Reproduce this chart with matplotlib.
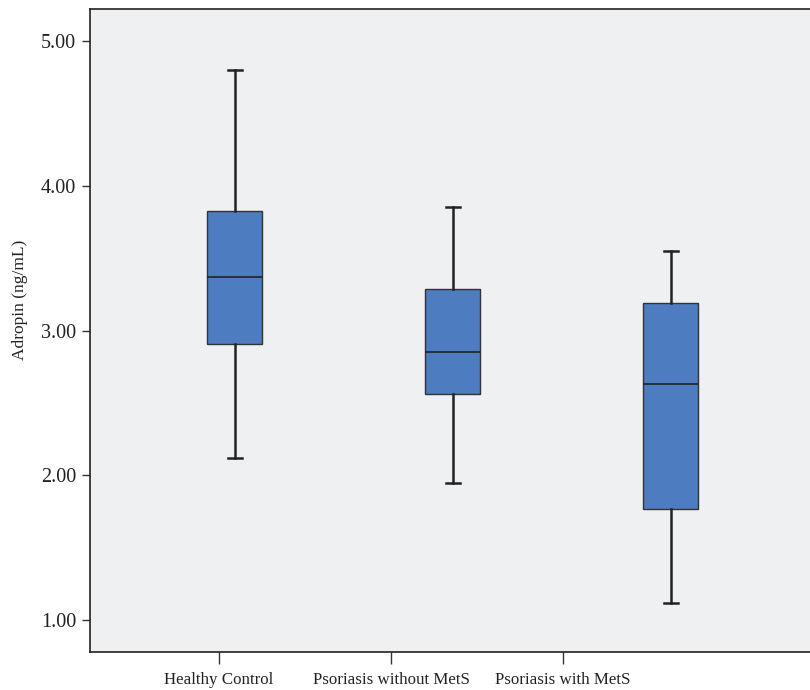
import matplotlib.pyplot as plt

groups = ['Healthy Control', 'Psoriasis without MetS', 'Psoriasis with MetS']
whislo = [2.12, 1.95, 1.12]
q1 = [2.907, 2.56, 1.77]
med = [3.37, 2.85, 2.63]
q3 = [3.826, 3.29, 3.19]
whishi = [4.80, 3.85, 3.55]

plt.rcParams['font.family'] = ['Liberation Serif', 'DejaVu Serif']

stats = []
for i in range(len(groups)):
    stats.append({'label': groups[i], 'whislo': whislo[i], 'q1': q1[i], 'med': med[i],
                  'q3': q3[i], 'whishi': whishi[i], 'fliers': []})

fig = plt.figure(figsize=(8.1, 6.9), dpi=100)
ax = fig.add_axes([0.111, 0.055, 0.9, 0.932])
ax.set_facecolor('#eff0f2')

ax.bxp(stats, positions=[1, 2, 3], widths=0.252, capwidths=0.065, showfliers=False,
       patch_artist=True,
       boxprops=dict(facecolor='#4e7cc1', edgecolor='#333333', linewidth=1.0),
       medianprops=dict(color='#222222', linewidth=1.2),
       whiskerprops=dict(color='#222222', linewidth=1.8),
       capprops=dict(color='#222222', linewidth=1.8))

# axis layout
ax.set_xlim(0.335, 3.679)
ax.set_ylim(0.779, 5.221)
ax.set_xticks([0.927, 1.716, 2.505])
ax.set_xticklabels(groups, fontsize=12.2, color='#222222')
ax.set_yticks([1, 2, 3, 4, 5])
ax.set_yticklabels(['1.00', '2.00', '3.00', '4.00', '5.00'], fontsize=14.5, color='#222222')
ax.tick_params(axis='x', length=8.6, width=1, colors='#333333', labelcolor='#222222', pad=6)
ax.tick_params(axis='y', length=5.8, width=1, colors='#333333', labelcolor='#222222', pad=4)
ax.set_ylabel('Adropin (ng/mL)', fontsize=12.5, color='#222222')
ax.yaxis.set_label_coords(-0.085, 0.547)

ax.spines['right'].set_visible(False)
for s in ['left', 'top', 'bottom']:
    ax.spines[s].set_color('#222222')
    ax.spines[s].set_linewidth(1.2)

fig.savefig('out.png', dpi=100)
